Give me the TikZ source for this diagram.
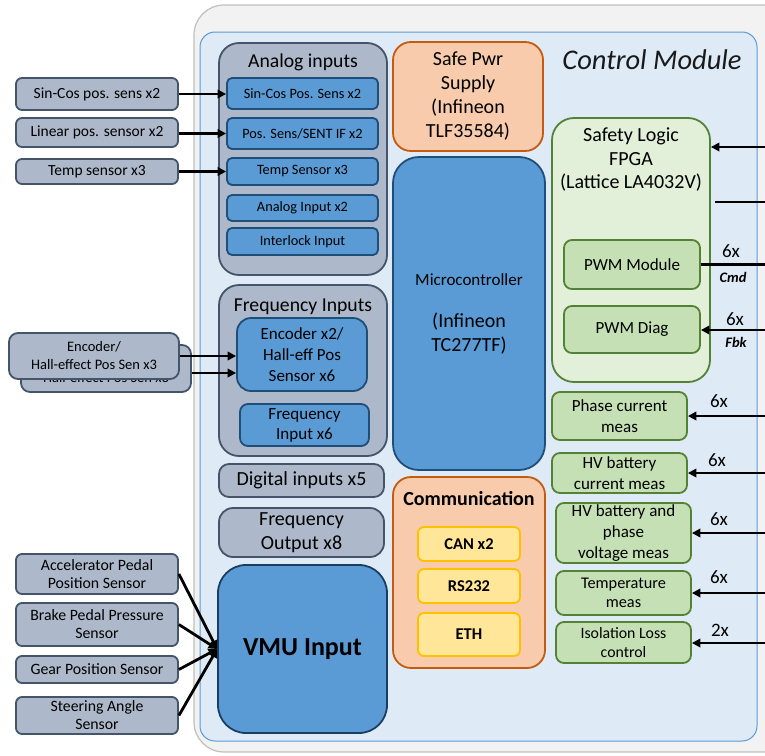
\documentclass[tikz,border=0pt]{standalone}
\usepackage{fontspec}
\setmainfont{Carlito}
\usetikzlibrary{arrows.meta,calc}
\definecolor{gfill}{HTML}{ADB9CA}
\definecolor{gline}{HTML}{44546A}
\definecolor{bfill}{HTML}{5B9BD5}
\definecolor{bline}{HTML}{1F4E79}
\definecolor{ofill}{HTML}{F8CBAD}
\definecolor{oline}{HTML}{C55A11}
\definecolor{yfill}{HTML}{FFE699}
\definecolor{yline}{HTML}{FFC000}
\definecolor{lgfill}{HTML}{E2F0D9}
\definecolor{mgfill}{HTML}{C5E0B4}
\definecolor{grline}{HTML}{548235}
\definecolor{panel}{HTML}{DEEBF7}
\definecolor{panelline}{HTML}{5B9BD5}
\definecolor{outfill}{HTML}{F2F2F2}
\definecolor{outline}{HTML}{BFBFBF}
\begin{document}
\begin{tikzpicture}[x=1pt,y=-1pt,
  base/.style={line width=1.8pt, align=center, inner sep=1pt},
  grp/.style={base, draw=gline, fill=gfill, rounded corners=20pt},
  gbox/.style={base, draw=gline, fill=gfill, rounded corners=6pt, font=\fontsize{15.5}{18}\selectfont},
  bbox/.style={base, draw=bline, fill=bfill, rounded corners=5pt, font=\fontsize{14.3}{16}\selectfont},
  obox/.style={base, draw=oline, fill=ofill, rounded corners=18pt},
  ybox/.style={base, draw=yline, fill=yfill, rounded corners=6pt, font=\bfseries\fontsize{16.5}{18}\selectfont},
  lgbox/.style={base, draw=grline, fill=lgfill, rounded corners=22pt},
  mgbox/.style={base, draw=grline, fill=mgfill, rounded corners=8pt, font=\fontsize{17}{21}\selectfont},
  arr/.style={line width=2.8pt, -{Triangle[length=8.5pt,width=8.5pt]}},
  plain/.style={line width=2.8pt},
  lbl/.style={font=\fontsize{19}{21}\selectfont, inner sep=0pt},
  sublbl/.style={font=\bfseries\itshape\fontsize{14.5}{16}\selectfont, inner sep=0pt},
  title/.style={font=\fontsize{19.7}{23.5}\selectfont, inner sep=0pt, align=center}
]
\useasboundingbox (0,0) rectangle (765,755);
% outer and panel
\draw[draw=outline, fill=outfill, line width=1.2pt, rounded corners=30pt] (194,5) rectangle (820,752);
\draw[draw=panelline, fill=panel, line width=1pt, rounded corners=15pt] (200,32) rectangle (757,741);
\node[font=\itshape\fontsize{28.5}{32}\selectfont, inner sep=0pt, text=black!90] (cm) at (652,60) {Control Module};

% Analog inputs group
\node[grp, minimum width=168pt, minimum height=232pt] (ag) at (303,159) {};
\node[title] (agt) at (303,62) {Analog inputs};
\node[bbox, minimum width=151pt, minimum height=31pt] (sc) at (302.5,93.5) {Sin-Cos Pos. Sens x2};
\node[bbox, minimum width=151pt, minimum height=31pt] (ps) at (302.5,133.5) {Pos. Sens/SENT IF x2};
\node[bbox, minimum width=151pt, minimum height=27pt] (ts) at (302.5,171.5) {Temp Sensor x3};
\node[bbox, minimum width=151pt, minimum height=26pt] (ai) at (302.5,208) {Analog Input x2};
\node[bbox, minimum width=151pt, minimum height=27pt] (il) at (302.5,241.5) {Interlock Input};

\node[gbox, minimum width=162pt, minimum height=32pt] (esc) at (97,94) {Sin-Cos pos. sens x2};
\node[gbox, minimum width=162pt, minimum height=29pt] (elp) at (97,132.5) {Linear pos. sensor x2};
\node[gbox, minimum width=162pt, minimum height=25pt] (ets) at (97,171.5) {Temp sensor x3};
\draw[arr] (esc.east) -- (esc.east -| sc.west);
\draw[arr] ([yshift=-1pt]elp.east) coordinate (lp1) -- (lp1 -| ps.west);
\draw[arr] (ets.east) -- (ets.east -| ts.west);

% Frequency inputs group
\node[grp, minimum width=168pt, minimum height=171pt] (fg) at (303,370.5) {};
\node[title] (fgt) at (303,307) {Frequency Inputs};
\node[bbox, rounded corners=14pt, minimum width=130pt, minimum height=73pt, font=\fontsize{17}{21}\selectfont] (enc) at (302,354.5) {Encoder x2/\\Hall-eff Pos\\Sensor x6};
\node[bbox, rounded corners=8pt, minimum width=129pt, minimum height=42pt, font=\fontsize{17}{20}\selectfont] (fi) at (304.5,425) {Frequency\\Input x6};

\node[gbox, rounded corners=9pt, minimum width=170pt, minimum height=47pt, font=\fontsize{14.5}{18}\selectfont] (ebk) at (106,368.5) {Encoder/\\Hall-effect Pos Sen x3};
\node[gbox, rounded corners=9pt, minimum width=170pt, minimum height=46pt, font=\fontsize{14.5}{18}\selectfont] (efr) at (94,356) {Encoder/\\Hall-effect Pos Sen x3};
\draw[arr] (efr.east) -- (efr.east -| enc.west);
\draw[arr] ([yshift=-4.5pt]ebk.east) coordinate (b2) -- (b2 -| enc.west);

\node[grp, rounded corners=10pt, minimum width=165pt, minimum height=33pt, font=\fontsize{20}{24}\selectfont] (dig) at (301.5,480.5) {Digital inputs x5};
\node[grp, rounded corners=14pt, minimum width=165pt, minimum height=49pt, font=\fontsize{20}{24}\selectfont] (fo) at (301.5,532.5) {Frequency\\Output x8};
\node[bbox, draw=bline!80!black, rounded corners=28pt, minimum width=169pt, minimum height=168pt, font=\bfseries\fontsize{26}{30}\selectfont] (vmu) at (302.5,649) {VMU Input};

\node[gbox, minimum width=162pt, minimum height=40pt, font=\fontsize{15.8}{18}\selectfont] (acc) at (97,574) {Accelerator Pedal\\Position Sensor};
\node[gbox, minimum width=162pt, minimum height=43pt, font=\fontsize{15.8}{18}\selectfont] (brk) at (97,624.5) {Brake Pedal Pressure\\Sensor};
\node[gbox, minimum width=162pt, minimum height=27pt, font=\fontsize{15.8}{18}\selectfont] (gear) at (97,669.5) {Gear Position Sensor};
\node[gbox, minimum width=162pt, minimum height=37pt, font=\fontsize{15.8}{18}\selectfont] (steer) at (97,715.5) {Steering Angle\\Sensor};
\draw[arr] (acc.east) -- (vmu.west);
\draw[arr] (brk.east) -- (vmu.west);
\draw[arr] (gear.east) -- (vmu.west);
\draw[arr] (steer.east) -- (vmu.west);

% middle column
\node[obox, minimum width=150pt, minimum height=109pt, font=\fontsize{20}{24}\selectfont] (psu) at (468,96.5) {Safe Pwr\\Supply\\(Infineon\\TLF35584)};
\node[bbox, rounded corners=26pt, minimum width=152pt, minimum height=313pt, font=\fontsize{20}{24}\selectfont] (mcu) at (469,313.5) {{\fontsize{17}{20}\selectfont Microcontroller}\\[18pt](Infineon\\TC277TF)};
\node[obox, minimum width=152pt, minimum height=191pt] (com) at (469,572.5) {};
\node[font=\bfseries\fontsize{20}{24}\selectfont, inner sep=0pt] (comt) at (469,499) {Communication};
\node[ybox, minimum width=102pt, minimum height=34pt] (can) at (469,544) {CAN x2};
\node[ybox, minimum width=102pt, minimum height=34pt] (rs) at (469,586) {RS232};
\node[ybox, minimum width=102pt, minimum height=43pt] (eth) at (469,634.5) {ETH};

% FPGA
\node[lgbox, minimum width=158pt, minimum height=264pt] (fpga) at (631,250) {};
\node[title, font=\fontsize{20}{23.5}\selectfont] (fpgat) at (631,160) {Safety Logic\\FPGA\\(Lattice LA4032V)};
\node[mgbox, minimum width=136pt, minimum height=49pt] (pwm) at (632,264.5) {PWM Module};
\node[mgbox, minimum width=136pt, minimum height=47pt] (diag) at (632,329.5) {PWM Diag};

\coordinate (r1) at (768,147);
\draw[arr] (r1) -- (r1 -| fpga.east);
\coordinate (r2a) at (715,202);
\coordinate (r2b) at (768,202);
\draw[plain] (r2a) -- (r2b);
\coordinate (r3) at (768,265);
\draw[plain] (pwm.east) -- (pwm.east -| r3);
\coordinate (r4) at (768,330);
\draw[arr] (r4) -- (r4 -| diag.east);
\node[lbl] (l1) at (731,251) {6x};
\node[sublbl] (c1) at (733,277) {Cmd};
\node[lbl] (l2) at (735,319) {6x};
\node[sublbl] (c2) at (736,342) {Fbk};

% right measurement boxes
\node[mgbox, minimum width=135pt, minimum height=48pt, font=\fontsize{17}{21}\selectfont] (pc) at (619.5,416) {Phase current\\meas};
\node[mgbox, minimum width=135pt, minimum height=40pt, font=\fontsize{17}{21}\selectfont] (hvc) at (619.5,473) {HV battery\\current meas};
\node[mgbox, minimum width=135pt, minimum height=60pt, font=\fontsize{17}{21}\selectfont] (hvv) at (623.5,533) {HV battery and\\phase\\voltage meas};
\node[mgbox, minimum width=135pt, minimum height=44pt, font=\fontsize{16.3}{19}\selectfont] (tm) at (623.5,593) {Temperature\\meas};
\node[mgbox, minimum width=135pt, minimum height=41pt, font=\fontsize{15.8}{19}\selectfont] (iso) at (623.5,642.5) {Isolation Loss\\control};

\coordinate (m1) at (768,416);
\coordinate (m2) at (768,473);
\coordinate (m3) at (768,533);
\coordinate (m4) at (768,593);
\coordinate (m5) at (768,643);
\draw[arr] (m1) -- (m1 -| pc.east);
\draw[arr] (m2) -- (m2 -| hvc.east);
\draw[arr] (m3) -- (m3 -| hvv.east);
\draw[arr] (m4) -- (m4 -| tm.east);
\draw[arr] (m5) -- (m5 -| iso.east);
\node[lbl] (n1) at (719,401) {6x};
\node[lbl] (n2) at (717,460) {6x};
\node[lbl] (n3) at (719,519) {6x};
\node[lbl] (n4) at (719,577) {6x};
\node[lbl] (n5) at (720,630) {2x};
\end{tikzpicture}
\end{document}
